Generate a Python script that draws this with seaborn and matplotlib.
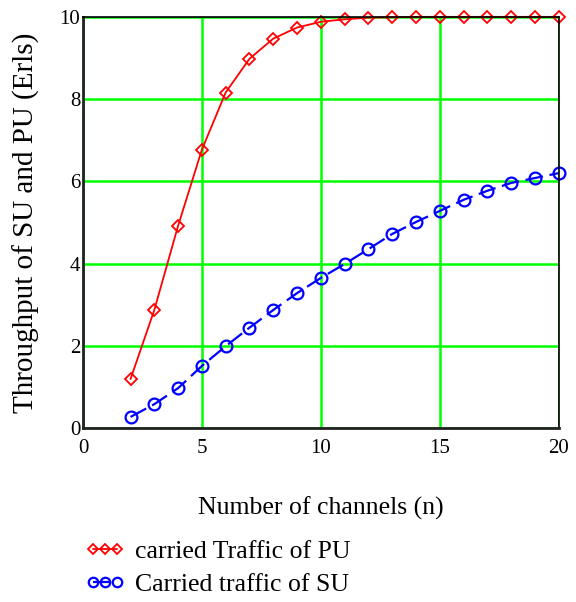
import numpy as np
import pandas as pd
import matplotlib
matplotlib.use("Agg")
import matplotlib.pyplot as plt
import seaborn as sns

channels = list(range(2, 21))
pu_traffic = [1.19, 2.87, 4.92, 6.77, 8.16, 8.98, 9.47, 9.74, 9.88, 9.94, 9.98,
              9.99, 10.0, 10.0, 10.0, 10.0, 10.0, 10.0, 10.0]
su_traffic = [0.27, 0.58, 0.97, 1.51, 1.99, 2.44, 2.87, 3.28, 3.65, 3.99, 4.35,
              4.72, 5.01, 5.28, 5.55, 5.77, 5.96, 6.08, 6.2]

pu_label = "carried Traffic of PU"
su_label = "Carried traffic of SU"

def main():
    sns.set_style("white")
    plt.rcParams["font.family"] = ["Liberation Serif", "DejaVu Serif"]
    plt.rcParams["text.color"] = "black"
    plt.rcParams["axes.labelcolor"] = "black"
    plt.rcParams["xtick.color"] = "black"
    plt.rcParams["ytick.color"] = "black"

    df_pu = pd.DataFrame({"n": channels, "traffic": pu_traffic})
    df_su = pd.DataFrame({"n": channels, "traffic": su_traffic})

    fig = plt.figure(figsize=(5.76, 6.02), dpi=100)
    ax = fig.add_axes([0.144, 0.289, 0.826, 0.683])

    sns.lineplot(data=df_pu, x="n", y="traffic", ax=ax, color="red", lw=1.3,
                 marker="D", markersize=6.5, mfc="none", mec="red", mew=1.3,
                 label=pu_label, clip_on=False, zorder=5)
    sns.lineplot(data=df_su, x="n", y="traffic", ax=ax, color="blue", lw=1.6,
                 marker="o", markersize=8.5, mfc="none", mec="blue", mew=1.6,
                 dashes=(8, 3), label=su_label, clip_on=False, zorder=5)

    ax.set_xlim(0, 20)
    ax.set_ylim(0, 10)
    ax.set_xticks([0, 5, 10, 15, 20])
    ax.set_yticks([0, 2, 4, 6, 8, 10])
    ax.grid(True, color="#00ff00", lw=1.8)
    ax.tick_params(axis="both", length=0, labelsize=15)
    ax.tick_params(axis="x", pad=8)
    ax.tick_params(axis="y", pad=2)
    for side in ["left", "bottom"]:
        ax.spines[side].set_linewidth(2)
        ax.spines[side].set_color("#222222")
    for side in ["top", "right"]:
        ax.spines[side].set_linewidth(1.2)
        ax.spines[side].set_color("black")
    for s in ax.spines.values():
        s.set_zorder(6)

    ax.set_xlabel("Number of channels (n)", fontsize=18.5, labelpad=28)
    ax.set_ylabel("Throughput of SU and PU (Erls)", fontsize=21, labelpad=14)

    handles, labels = ax.get_legend_handles_labels()
    ax.get_legend().remove()
    fig.legend(handles, labels, loc="upper left", bbox_to_anchor=(0.134, 0.116),
               frameon=False, fontsize=18.5, numpoints=3, handlelength=1.56,
               handletextpad=0.4, labelspacing=0.40, markerscale=0.8,
               borderaxespad=0, borderpad=0.3)

    fig.savefig("out.png", dpi=100)

main()
